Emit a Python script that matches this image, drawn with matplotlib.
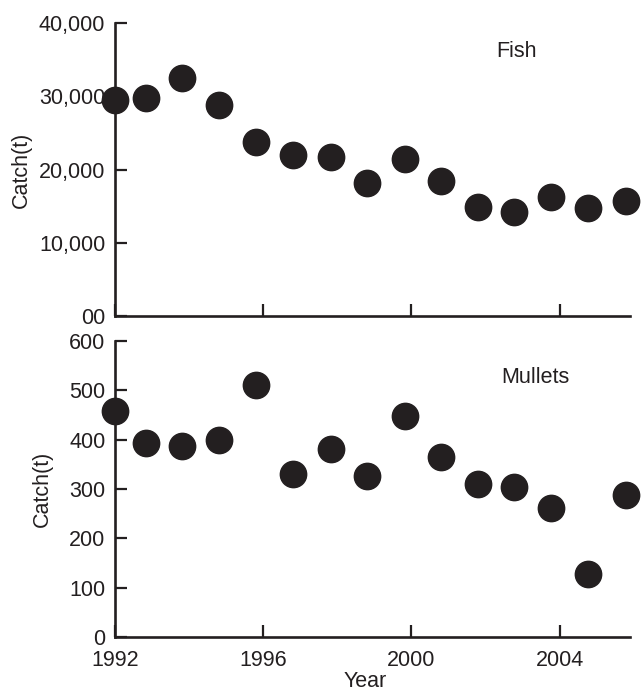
import matplotlib.pyplot as plt
from matplotlib.ticker import FuncFormatter

# values
years = [1992.0, 1992.85, 1993.8, 1994.8, 1995.8, 1996.8, 1997.82, 1998.8,
         1999.82, 2000.8, 2001.81, 2002.78, 2003.78, 2004.76, 2005.8]
fish = [29500, 29800, 32550, 28750, 23750, 22000, 21650, 18150,
        21400, 18450, 14850, 14250, 16250, 14700, 15650]
mullets = [458, 394, 386, 400, 511, 331, 380, 326,
           448, 365, 311, 305, 262, 129, 287]
xticks = [1992, 1996, 2000, 2004]

ink = '#231f20'
fs = 15.5
plt.rcParams['font.family'] = ['Liberation Sans', 'DejaVu Sans']
plt.rcParams['font.size'] = fs

fig = plt.figure(figsize=(6.41, 6.97), dpi=100)
ax1 = fig.add_axes([0.1794, 0.5466, 0.8034, 0.4204])
ax2 = fig.add_axes([0.1794, 0.0857, 0.8034, 0.4255])


def style(ax):
    for s in ['top', 'right']:
        ax.spines[s].set_visible(False)
    for s in ['left', 'bottom']:
        ax.spines[s].set_linewidth(1.9)
        ax.spines[s].set_color(ink)
    ax.tick_params(direction='in', length=8.5, width=1.6, colors=ink,
                   labelcolor=ink, labelsize=fs)
    ax.tick_params(axis='y', pad=7)
    ax.tick_params(axis='x', pad=9)
    ax.set_xlim(1992, 2005.9)
    ax.set_xticks(xticks)
    ax.set_facecolor('none')


ax1.scatter(years, fish, s=360, color=ink, clip_on=False, zorder=3)
style(ax1)
ax1.set_ylim(0, 40000)
ax1.set_yticks([0, 10000, 20000, 30000, 40000])
ax1.yaxis.set_major_formatter(FuncFormatter(lambda v, p: '00' if v == 0 else f'{int(v):,}'))
ax1.set_xticklabels([])
ax1.set_ylabel('Catch(t)', fontsize=fs, color=ink)
ax1.yaxis.set_label_coords(-0.162, 0.5)
ax1.text(2002.85, 36100, 'Fish', fontsize=fs, color=ink, ha='center', va='center')

ax2.scatter(years, mullets, s=360, color=ink, clip_on=False, zorder=3)
style(ax2)
ax2.set_ylim(0, 600)
ax2.set_yticks([0, 100, 200, 300, 400, 500, 600])
ax2.set_ylabel('Catch(t)', fontsize=fs, color=ink)
ax2.yaxis.set_label_coords(-0.12, 0.5)
ax2.set_xlabel('Year', fontsize=fs, color=ink)
ax2.xaxis.set_label_coords(0.485, -0.115)
ax2.text(2003.35, 525, 'Mullets', fontsize=fs, color=ink, ha='center', va='center')

fig.savefig('out.png', dpi=100)
